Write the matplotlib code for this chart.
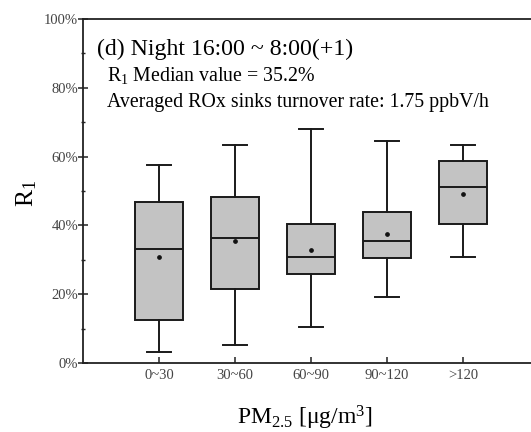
import matplotlib
matplotlib.use("Agg")
import matplotlib.pyplot as plt
from matplotlib.ticker import MultipleLocator, FuncFormatter

plt.rcParams['font.family'] = ['Liberation Serif', 'DejaVu Serif']
plt.rcParams['mathtext.fontset'] = 'custom'
plt.rcParams['mathtext.rm'] = 'Liberation Serif'
plt.rcParams['mathtext.it'] = 'Liberation Serif:italic'

categories = ['0~30', '30~60', '60~90', '90~120', '>120']
whisker_low = [3.3, 5.1, 10.4, 19.3, 30.9]
q1 = [12.5, 21.5, 26.0, 30.4, 40.3]
median = [33.1, 36.2, 30.9, 35.4, 51.3]
q3 = [46.7, 48.2, 40.5, 43.9, 58.8]
whisker_high = [57.7, 63.5, 68.1, 64.6, 63.5]
mean = [30.8, 35.4, 32.8, 37.4, 49.2]

W, H = 531, 432
fig = plt.figure(figsize=(W/100, H/100), dpi=100)
ax = fig.add_axes([83/W, 1-363/H, (539-83)/W, (363-19)/H])

stats = []
for i in range(len(categories)):
    stats.append(dict(whislo=whisker_low[i], q1=q1[i], med=median[i], q3=q3[i],
                      whishi=whisker_high[i], mean=mean[i], fliers=[], label=categories[i]))

positions = list(range(1, len(categories) + 1))
ax.bxp(stats, positions=positions, widths=0.64, patch_artist=True, showmeans=True,
       showfliers=False,
       boxprops=dict(facecolor='#c3c3c3', edgecolor='#1a1a1a', linewidth=1.4),
       medianprops=dict(color='#1a1a1a', linewidth=1.4),
       whiskerprops=dict(color='#1a1a1a', linewidth=1.4),
       capprops=dict(color='#1a1a1a', linewidth=1.4),
       capwidths=0.32,
       meanprops=dict(marker='o', markerfacecolor='#111111', markeredgecolor='#111111', markersize=2.4))

ax.set_xlim(0, 6)
ax.set_ylim(0, 100)
ax.yaxis.set_major_locator(MultipleLocator(20))
ax.yaxis.set_minor_locator(MultipleLocator(10))
ax.yaxis.set_major_formatter(FuncFormatter(lambda v, p: f'{v:.0f}%'))
ax.set_xticks(positions)
ax.set_xticklabels(categories)

for s in ['left', 'bottom', 'top']:
    ax.spines[s].set_linewidth(1.3)
    ax.spines[s].set_color('#222222')
ax.spines['right'].set_visible(False)

ax.tick_params(axis='y', which='major', direction='inout', length=7, width=1.1,
               labelsize=10.5, labelcolor='#444444', color='#222222', pad=0)
ax.tick_params(axis='y', which='minor', direction='inout', length=3.5, width=1.0, color='#222222')
ax.tick_params(axis='x', which='major', direction='in', length=4.5, width=1.1,
               labelsize=10.5, labelcolor='#444444', color='#222222', pad=4)

def px(x, y):
    return x / W, 1 - y / H

fig.text(*px(27, 193), r'R$_{\mathregular{1}}$', fontsize=18.5, rotation=90, va='center', ha='center')
fig.text(*px(305, 425), r'PM$_{\mathregular{2.5}}$ [μg/m$^{\mathregular{3}}$]', fontsize=17,
         va='baseline', ha='center')

fig.text(*px(97, 54.5), '(d) Night 16:00 ~ 8:00(+1)', fontsize=17.2, va='baseline', ha='left')
fig.text(*px(107, 81.5), r'R$_{\mathregular{1}}$ Median value = 35.2%', fontsize=14.3, va='baseline', ha='left')
fig.text(*px(107, 107), 'Averaged ROx sinks turnover rate: 1.75 ppbV/h', fontsize=14.3, va='baseline', ha='left')

fig.savefig('out.png', dpi=100)
